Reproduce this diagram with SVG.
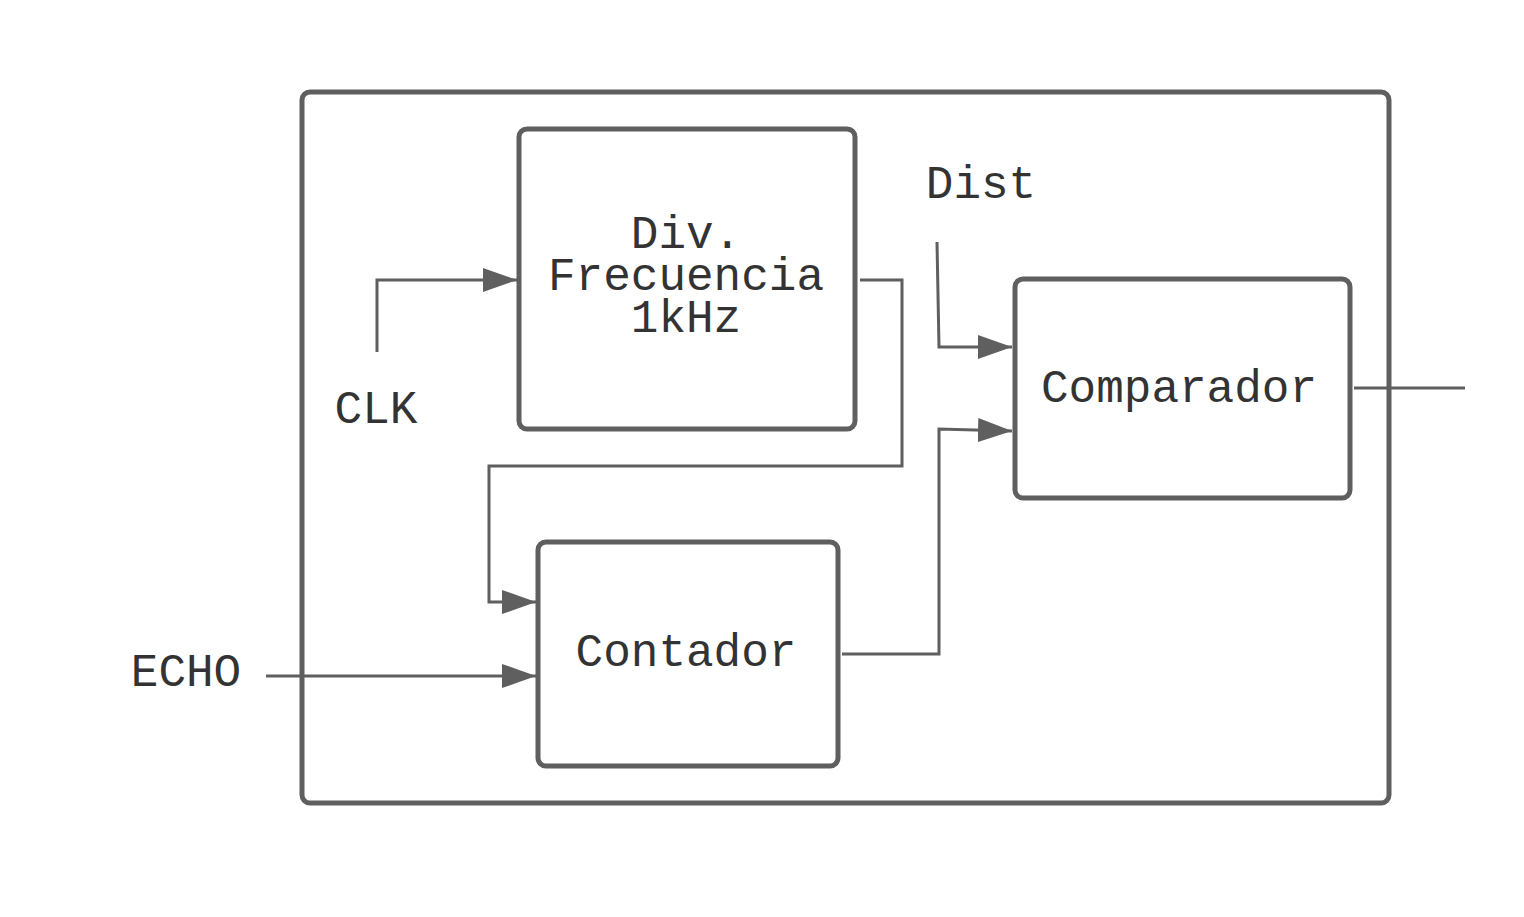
<svg xmlns="http://www.w3.org/2000/svg" width="1524" height="917" viewBox="0 0 1524 917">
<style>
.box{fill:#fff;stroke:#5f5f5f;stroke-width:5}
.frame{fill:none;stroke:#5f5f5f;stroke-width:5}
.wire{fill:none;stroke:#5f5f5f;stroke-width:3}
.t{font-family:"Liberation Mono","DejaVu Sans Mono",monospace;font-size:46px;fill:#333;text-anchor:middle}
</style>
<defs>
<marker id="arr" markerUnits="userSpaceOnUse" markerWidth="36" markerHeight="26" refX="34" refY="12" orient="auto">
<path d="M0,0 L34,12 L0,24 Z" fill="#5f5f5f"/>
</marker>
</defs>
<rect width="1524" height="917" fill="#fff"/>
<g id="frame"><rect class="frame" x="302" y="92" width="1087" height="711" rx="8"/></g>
<g id="connectors">
<path class="wire" d="M377,352 L377,280 L517,280" marker-end="url(#arr)"/>
<path class="wire" d="M860,280 L902,280 L902,466 L489,466 L489,602 L536,602" marker-end="url(#arr)"/>
<path class="wire" d="M937,242 L939,347 L1012,347" marker-end="url(#arr)"/>
<path class="wire" d="M842,654 L939,654 L939,429 L1012,431" marker-end="url(#arr)"/>
<path class="wire" d="M1354,388 L1465,388"/>
<path class="wire" d="M266,676 L536,676" marker-end="url(#arr)"/>
</g>
<g id="div"><rect class="box" x="519" y="129" width="336" height="300" rx="8"/>
<text class="t" x="686" y="248">Div.</text>
<text class="t" x="686" y="290">Frecuencia</text>
<text class="t" x="686" y="332">1kHz</text></g>
<g id="comparador"><rect class="box" x="1015" y="279" width="335" height="219" rx="8"/>
<text class="t" x="1179" y="402">Comparador</text></g>
<g id="contador"><rect class="box" x="538" y="542" width="300" height="224" rx="8"/>
<text class="t" x="686" y="666">Contador</text></g>
<g id="clk"><text class="t" x="376" y="423">CLK</text></g>
<g id="dist"><text class="t" x="981" y="198">Dist</text></g>
<g id="echo"><text class="t" x="186" y="686">ECHO</text></g>
</svg>
